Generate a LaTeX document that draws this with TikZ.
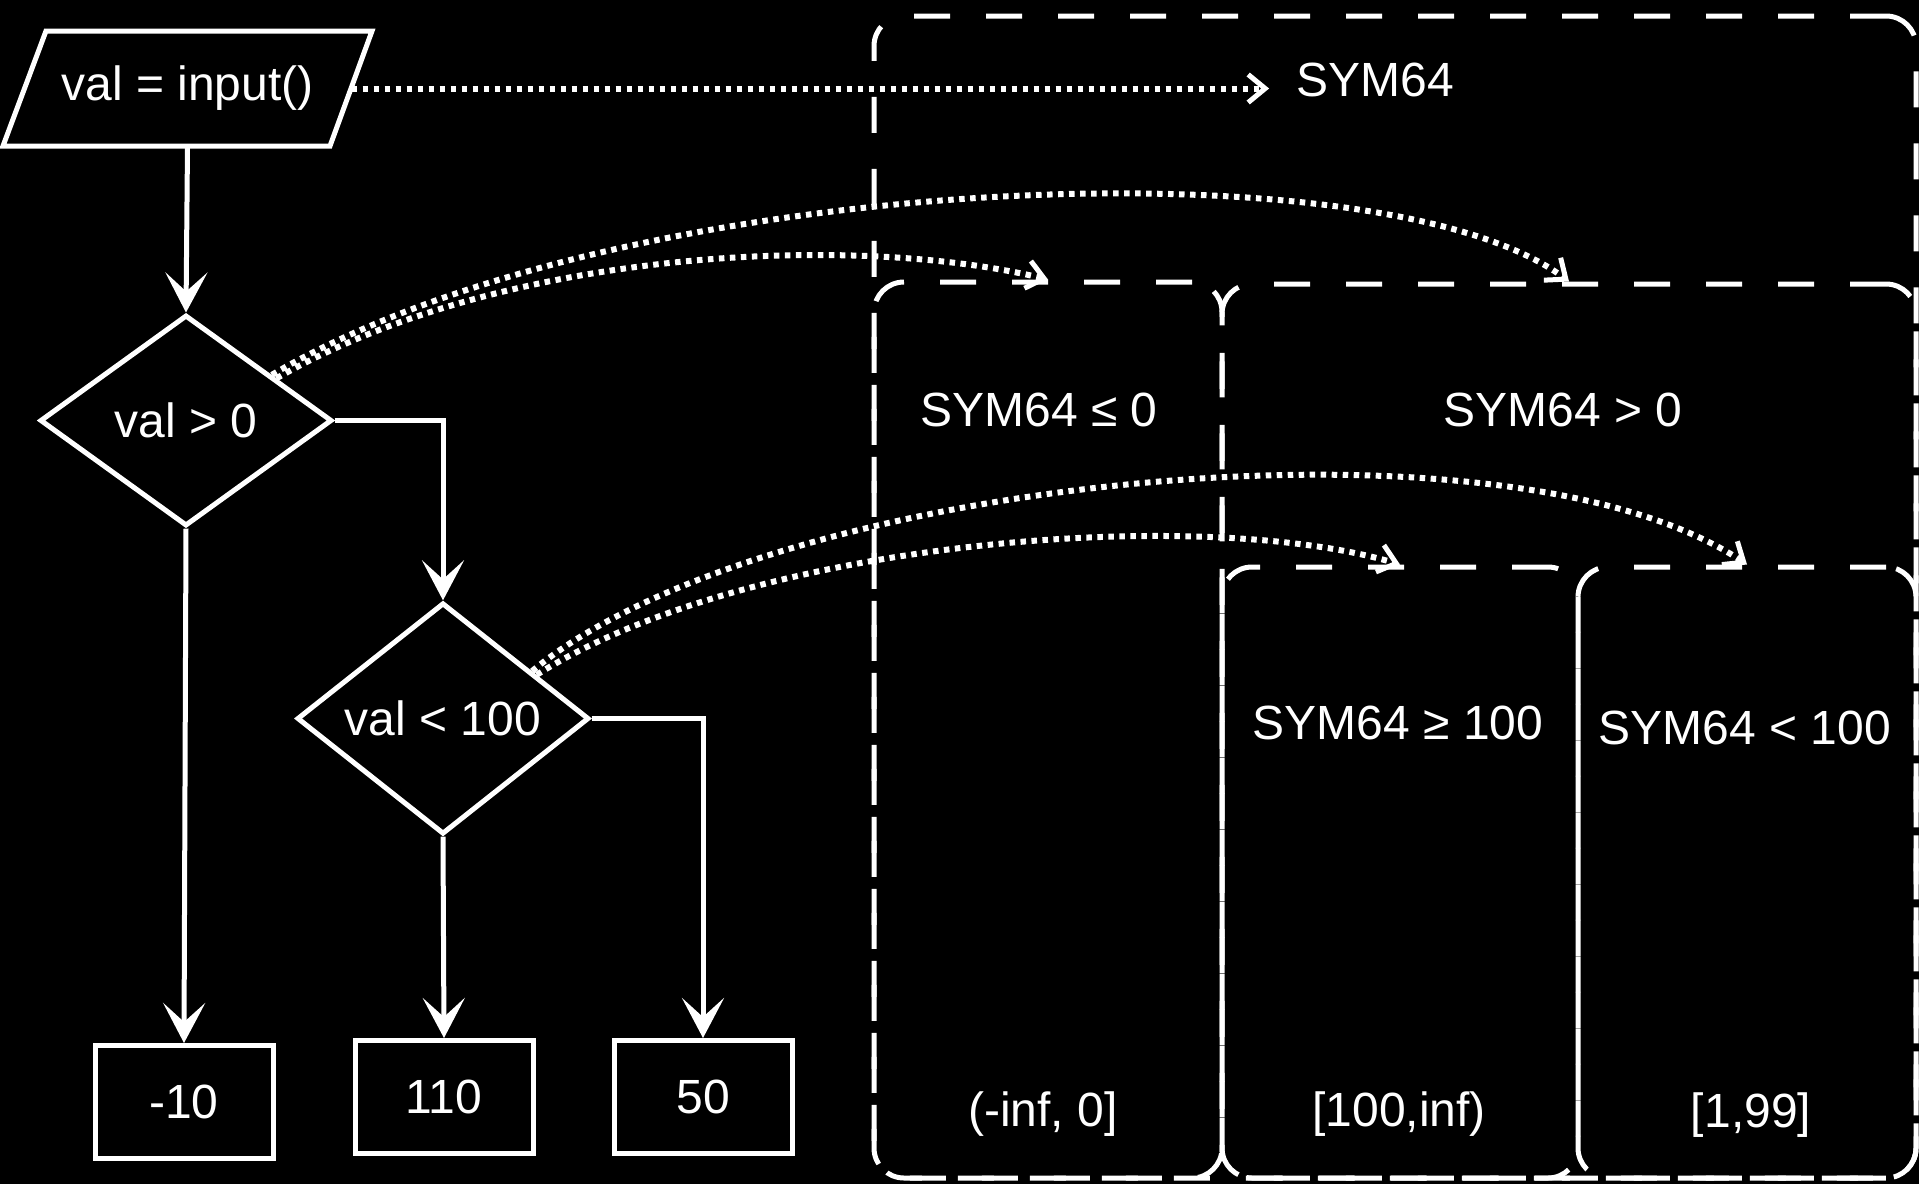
\documentclass[tikz,border=0pt]{standalone}
\usepackage{fontspec}
\setmainfont{Liberation Sans}
\usetikzlibrary{shapes.geometric,arrows.meta}
\begin{document}
\begin{tikzpicture}[x=1pt,y=-1pt,
  every node/.style={text=white,font=\fontsize{48}{58}\selectfont},
  shapeline/.style={draw=white,line width=5pt},
  inputbox/.style={rectangle,minimum width=328pt,minimum height=115pt,inner sep=0pt},
  decision/.style={draw=white,line width=5pt,diamond,minimum width=292pt,minimum height=211pt,inner sep=0pt},
  outbox/.style={draw=white,line width=5pt,rectangle,minimum width=178pt,minimum height=113pt,inner sep=0pt},
  region/.style={draw=white,line width=5pt,dash pattern=on 36pt off 36pt,rounded corners=30pt,rectangle,inner sep=0pt},
  lbl/.style={inner sep=0pt},
  arr/.style={draw=white,line width=5pt,-{Stealth[length=40pt,width=42pt,inset=19pt]}},
  dotarr/.style={draw=white,line width=6pt,dash pattern=on 5.5pt off 5.5pt,
    -{Straight Barb[length=17pt,width=28pt,line width=5pt]}},
]
\fill[black] (0,0) rectangle (1919,1184);
\useasboundingbox (0,0) rectangle (1919,1184);

% regions
\node[region,minimum width=1042pt,minimum height=1162pt] (outer) at (1395,597) {};
\node[region,minimum width=348pt,minimum height=896pt] (A) at (1048,730) {};
\node[region,minimum width=694pt,minimum height=894pt] (B) at (1569,731) {};
\node[region,minimum width=356pt,minimum height=611pt] (C) at (1400,872.5) {};
\node[region,minimum width=338pt,minimum height=611pt] (D) at (1747,872.5) {};

% region labels
\node[lbl] (sym) at (1375,80) {SYM64};
\node[lbl] (la) at (1039,410) {SYM64 ≤ 0};
\node[lbl] (lb) at (1563,410) {SYM64 > 0};
\node[lbl] (lc) at (1398,723) {SYM64 ≥ 100};
\node[lbl] (ld) at (1745,728) {SYM64 < 100};
\node[lbl] (ra) at (1043,1114) {(-inf, 0]};
\node[lbl] (rc) at (1399,1114) {[100,inf)};
\node[lbl] (rd) at (1751,1115) {[1,99]};

% flowchart
\draw[shapeline] (3,146) -- (330,146) -- (372,31) -- (46,31) -- cycle;
\node[inputbox] (inp) at (187.5,88.5) {val = input()};
\node[decision] (d1) at (186,420.5) {val > 0};
\node[decision] (d2) at (443,718.5) {val < 100};
\node[outbox] (b1) at (184,1102) {-10};
\node[outbox] (b2) at (444,1097) {110};
\node[outbox] (b3) at (703,1097) {50};

\draw[arr] (inp.south) -- (d1.north);
\draw[arr] (d1.east) -| (d2.north);
\draw[arr] (d1.south) -- (b1.north);
\draw[arr] (d2.south) -- (b2.north);
\draw[arr] (d2.east) -| (b3.north);

% dotted mappings
\draw[dotarr,shorten >=27pt] (inp.east) -- (inp.east -| sym.west);
\draw[dotarr] (d1.25) .. controls (500,250) and (850,232) .. (A.north);
\draw[dotarr] (d1.28) .. controls (620,170) and (1380,140) .. (B.north);
\draw[dotarr] (d2.25) .. controls (750,540) and (1200,505) .. (C.north);
\draw[dotarr] (d2.28) .. controls (760,480) and (1500,400) .. (D.north);
\end{tikzpicture}
\end{document}
